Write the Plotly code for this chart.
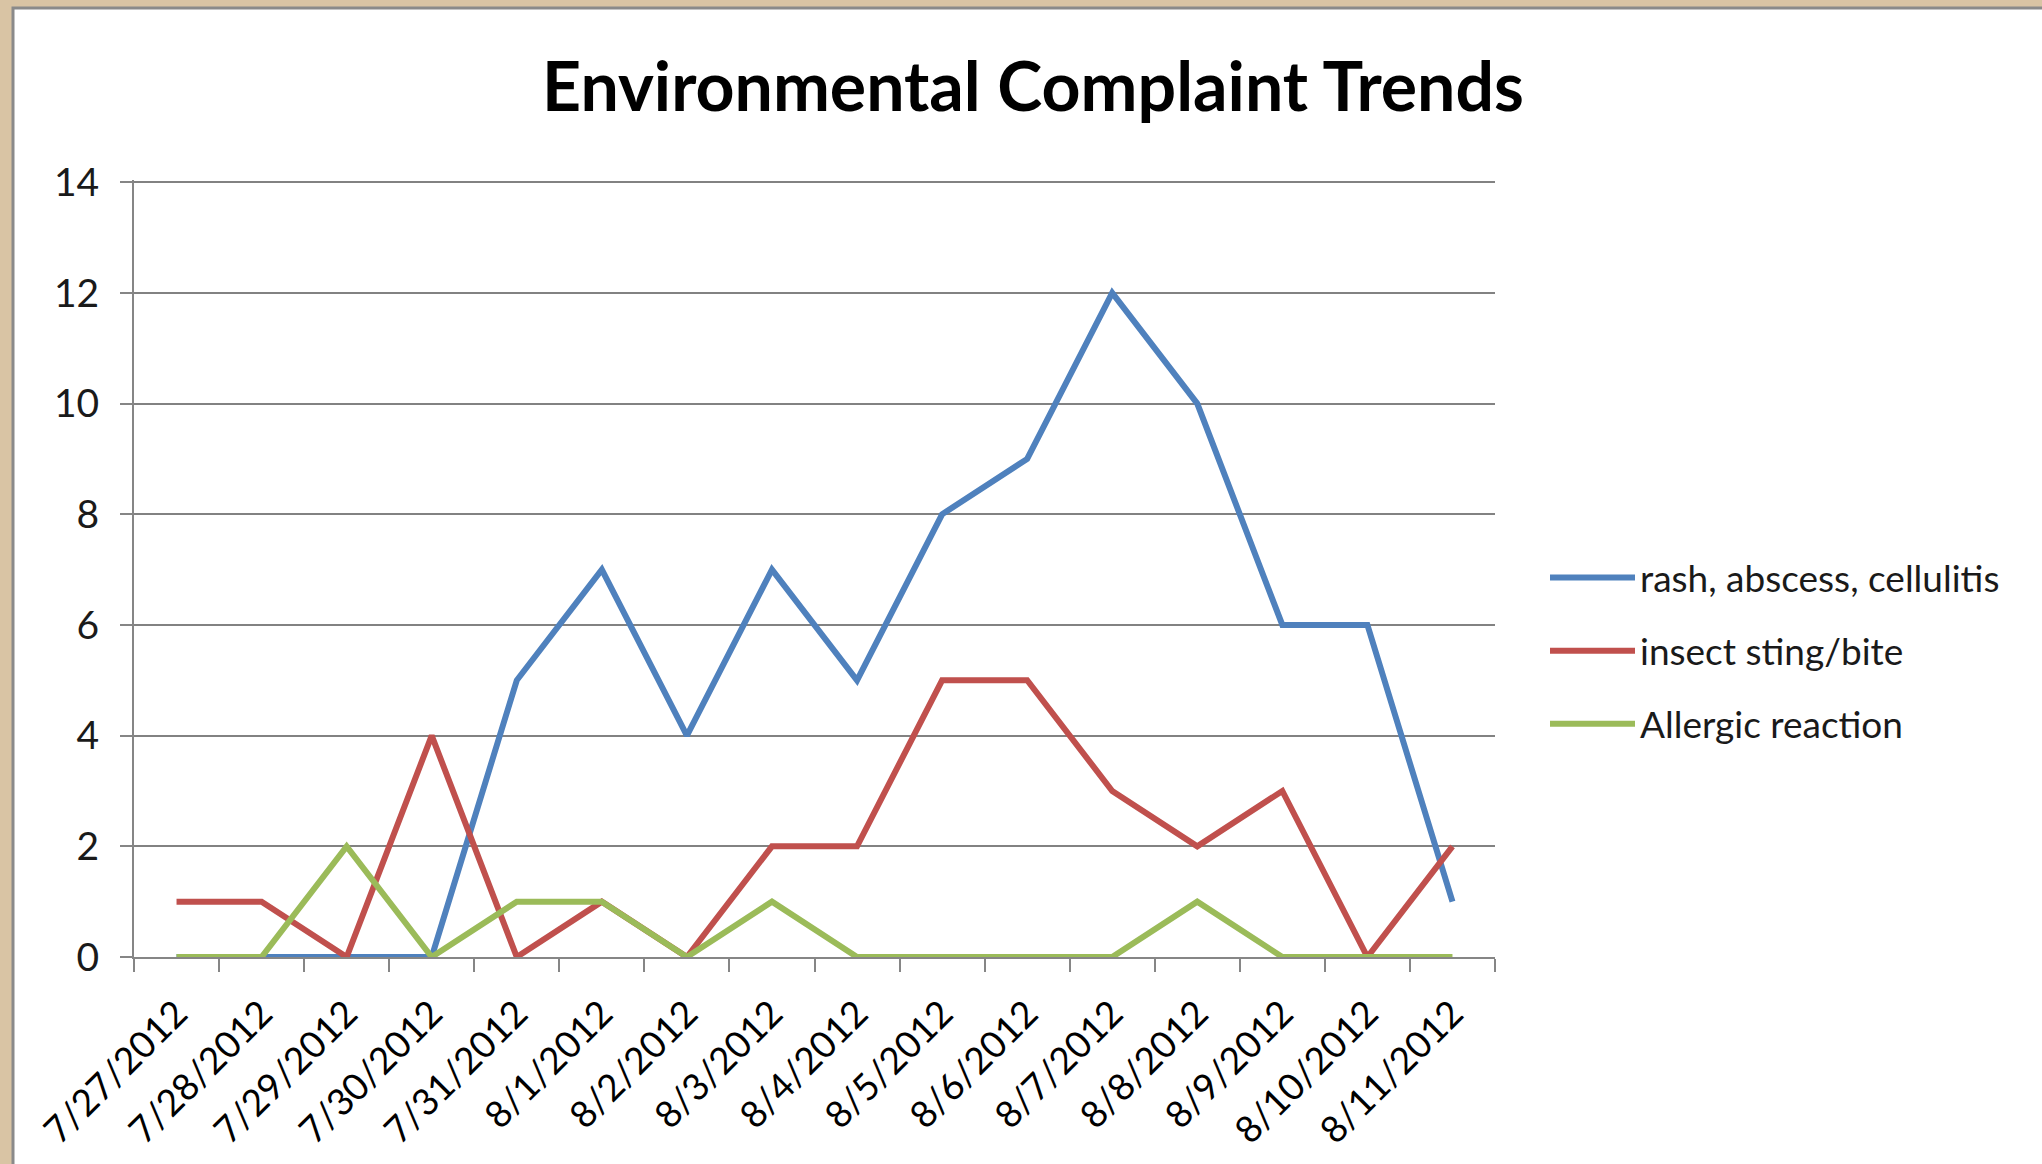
import plotly.graph_objects as go

dates = ["7/27/2012", "7/28/2012", "7/29/2012", "7/30/2012", "7/31/2012", "8/1/2012",
         "8/2/2012", "8/3/2012", "8/4/2012", "8/5/2012", "8/6/2012", "8/7/2012",
         "8/8/2012", "8/9/2012", "8/10/2012", "8/11/2012"]
rash = [0, 0, 0, 0, 5, 7, 4, 7, 5, 8, 9, 12, 10, 6, 6, 1]
insect = [1, 1, 0, 4, 0, 1, 0, 2, 2, 5, 5, 3, 2, 3, 0, 2]
allergic = [0, 0, 2, 0, 1, 1, 0, 1, 0, 0, 0, 0, 1, 0, 0, 0]
series_names = ["rash, abscess, cellulitis", "insect sting/bite", "Allergic reaction"]
colors = ["#4F81BD", "#C0504D", "#9BBB59"]

W, H = 2042, 1164
L, R, T, B = 134, 2042 - 1495, 180, 1164 - 957
pw, ph = W - L - R, H - T - B

def px(x):
    return (x - L) / pw

def py(y):
    return (H - B - y) / ph

fig = go.Figure()
for i, (name, vals) in enumerate(zip(series_names, [rash, insect, allergic])):
    fig.add_trace(go.Scatter(x=dates, y=vals, name=name, mode="lines",
                             line=dict(color=colors[i], width=6),
                             legendgroup=f"g{i}"))

FONT = "Lato"
fig.update_layout(
    width=W, height=H,
    margin=dict(l=L, r=R, t=T, b=B),
    paper_bgcolor="#D9C4A4",
    plot_bgcolor="rgba(0,0,0,0)",
    title=dict(text="<b>Environmental Complaint Trends</b>", x=1033 / W, xanchor="center",
               y=1 - 87 / H, yanchor="middle",
               font=dict(family=FONT, size=68, color="black")),
    showlegend=True,
    legend=dict(x=px(1545), xanchor="left", y=py(651), yanchor="middle",
                font=dict(family=FONT, size=37, color="#1a1a1a"),
                bgcolor="rgba(0,0,0,0)", itemwidth=85, tracegroupgap=22,
                traceorder="grouped"),
    xaxis=dict(type="category", range=[-0.5, 15.5], tickangle=-45,
               showline=True, linecolor="#868686", linewidth=2,
               ticks="outside", tickson="boundaries", ticklen=13, tickcolor="#868686", tickwidth=2,
               showgrid=False, ticklabelstandoff=18,
               tickfont=dict(family=FONT, size=37, color="black")),
    yaxis=dict(range=[0, 14.04], tickvals=[0, 2, 4, 6, 8, 10, 12, 14], showline=True,
               linecolor="#868686", linewidth=2,
               ticks="outside", ticklen=12, tickcolor="#868686", tickwidth=2,
               showgrid=True, gridcolor="#828282", gridwidth=1.5, zeroline=False,
               ticklabelstandoff=13,
               tickfont=dict(family=FONT, size=39, color="#1a1a1a")),
    shapes=[dict(type="rect", xref="paper", yref="paper", layer="below",
                 x0=px(13), x1=px(2100), y0=py(1200), y1=py(8),
                 fillcolor="white", line=dict(color="#8A8A8A", width=3))],
)

fig.write_html("out.html", config={"displayModeBar": False},
               post_script="document.body.style.margin='0';")
